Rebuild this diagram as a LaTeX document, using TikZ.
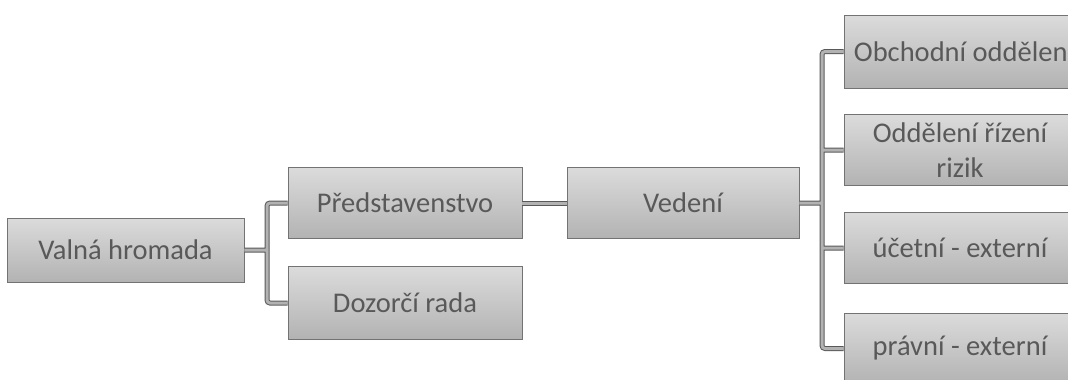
\documentclass[tikz,border=0pt]{standalone}
\usepackage{fontspec}
\setmainfont{Carlito}
\begin{document}
\begin{tikzpicture}[x=1pt,y=-1pt,
  box/.style={draw=black!55, line width=0.8pt, top color=black!14, bottom color=black!30,
    minimum width=234pt, minimum height=71pt, inner sep=0pt, text=black!65,
    font=\fontsize{28.5}{35}\selectfont, align=center},
  conn/.style={draw=black!30, line width=3pt, rounded corners=3pt,
    preaction={draw=black!65, line width=5pt}}]
\useasboundingbox (0,0) rectangle (1068,380);
\clip (0,0) rectangle (1068,380);
\node[box, minimum width=237pt, minimum height=64pt] (valna) at (125.5,250) {Valná hromada};
\node[box] (pred) at (405,203) {Představenstvo};
\node[box, minimum height=73pt] (dozor) at (405,303) {Dozorčí rada};
\node[box, minimum width=232pt] (vedeni) at (683,203) {Vedení};
\node[box, minimum width=232pt, minimum height=73pt] (obch) at (960,51.5) {\makebox[0pt]{\hspace{8pt}Obchodní oddělení}};
\node[box, minimum width=232pt] (odd) at (960,150) {Oddělení řízení\\rizik};
\node[box, minimum width=232pt] (uct) at (960,248) {účetní - externí};
\node[box, minimum width=232pt] (prav) at (960,348.5) {právní - externí};
\coordinate (ltrunk) at (267,0);
\coordinate (rtrunk) at (822,0);
\draw[conn] (valna.east) -- (valna.east -| ltrunk)
  (pred.west) -- (pred.west -| ltrunk) -- (dozor.west -| ltrunk) -- (dozor.west);
\draw[conn] (pred.east) -- (vedeni.west);
\draw[conn] (vedeni.east) -- (vedeni.east -| rtrunk)
  (obch.west) -- (obch.west -| rtrunk) -- (prav.west -| rtrunk) -- (prav.west)
  (odd.west) -- (odd.west -| rtrunk)
  (uct.west) -- (uct.west -| rtrunk);
\end{tikzpicture}
\end{document}
